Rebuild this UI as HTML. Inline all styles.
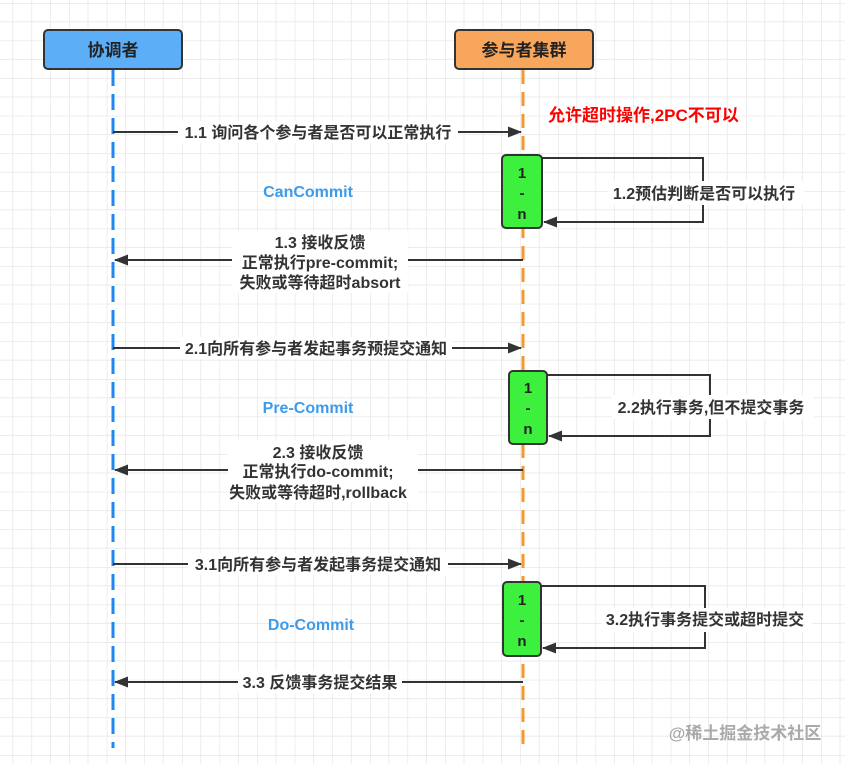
<!DOCTYPE html>
<html><head><meta charset="utf-8"><style>
html,body{margin:0;padding:0;background:#fff;}
svg{display:block;}
text{font-family:"Liberation Sans","Noto Sans CJK SC",sans-serif;font-weight:bold;}
</style></head><body>
<svg width="845" height="764" viewBox="0 0 845 764" xmlns="http://www.w3.org/2000/svg">
<defs>
<pattern id="g" width="37.6" height="37.6" patternUnits="userSpaceOnUse" x="-6" y="3">
<path d="M18.8 0V37.6M0 18.8H37.6" stroke="#ebebeb" stroke-width="1" fill="none"/>
<path d="M0 0V37.6M0 0H37.6" stroke="#dedede" stroke-width="1" fill="none"/>
</pattern>
<marker id="a" markerWidth="14" markerHeight="11" refX="13" refY="5.5" orient="auto" markerUnits="userSpaceOnUse">
<path d="M0 0L14 5.5L0 11Z" fill="#333"/></marker>
</defs>
<rect width="845" height="764" fill="url(#g)"/>
<line x1="113" y1="70" x2="113" y2="748" stroke="#1e88f0" stroke-width="3" stroke-dasharray="16,8"/>
<line x1="523" y1="70" x2="523" y2="748" stroke="#f39a2e" stroke-width="3" stroke-dasharray="14,8"/>
<rect x="44" y="30" width="138" height="39" rx="4" fill="#5caef7" stroke="#333" stroke-width="2"/>
<text x="113" y="56" text-anchor="middle" font-size="17" fill="#222">协调者</text>
<rect x="455" y="30" width="138" height="39" rx="4" fill="#f8a65c" stroke="#333" stroke-width="2"/>
<text x="524" y="56" text-anchor="middle" font-size="17" fill="#222">参与者集群</text>
<text x="548" y="121" font-size="17" fill="#f00">允许超时操作,2PC不可以</text>
<g stroke="#333" stroke-width="2" fill="none">
<line x1="113" y1="132" x2="521" y2="132" marker-end="url(#a)"/>
<line x1="523" y1="260" x2="115" y2="260" marker-end="url(#a)"/>
<line x1="113" y1="348" x2="521" y2="348" marker-end="url(#a)"/>
<line x1="523" y1="470" x2="115" y2="470" marker-end="url(#a)"/>
<line x1="113" y1="564" x2="521" y2="564" marker-end="url(#a)"/>
<line x1="523" y1="682" x2="115" y2="682" marker-end="url(#a)"/>
<polyline points="542,158 703,158 703,222 544,222" marker-end="url(#a)"/>
<polyline points="547,375 710,375 710,436 549,436" marker-end="url(#a)"/>
<polyline points="541,586 705,586 705,648 543,648" marker-end="url(#a)"/>
</g>
<rect x="502" y="155" width="40" height="73" rx="4" fill="#3ef03e" stroke="#333" stroke-width="2"/>
<rect x="509" y="371" width="38" height="73" rx="4" fill="#3ef03e" stroke="#333" stroke-width="2"/>
<rect x="503" y="582" width="38" height="74" rx="4" fill="#3ef03e" stroke="#333" stroke-width="2"/>
<g font-size="15" fill="#222" text-anchor="middle">
<text x="522" y="178">1</text><text x="522" y="198">-</text><text x="522" y="219">n</text>
<text x="528" y="393">1</text><text x="528" y="413">-</text><text x="528" y="434">n</text>
<text x="522" y="605" font-weight="normal">1</text><text x="522" y="625" font-weight="normal">-</text><text x="522" y="646" font-weight="normal">n</text>
</g>
<g fill="#fff">
<rect x="178" y="121" width="280" height="22"/>
<rect x="608" y="181" width="196" height="24"/>
<rect x="232" y="231" width="176" height="62"/>
<rect x="180" y="337" width="272" height="22"/>
<rect x="612" y="395" width="202" height="24"/>
<rect x="228" y="440" width="190" height="62"/>
<rect x="188" y="553" width="260" height="22"/>
<rect x="602" y="608" width="210" height="24"/>
<rect x="238" y="671" width="164" height="22"/>
</g>
<g font-size="16" fill="#333" text-anchor="middle">
<text x="318" y="138">1.1 询问各个参与者是否可以正常执行</text>
<text x="704" y="199">1.2预估判断是否可以执行</text>
<text x="320" y="248">1.3 接收反馈</text>
<text x="320" y="268">正常执行pre-commit;</text>
<text x="320" y="288">失败或等待超时absort</text>
<text x="316" y="354">2.1向所有参与者发起事务预提交通知</text>
<text x="711" y="413">2.2执行事务,但不提交事务</text>
<text x="318" y="458">2.3 接收反馈</text>
<text x="318" y="477">正常执行do-commit;</text>
<text x="318" y="498">失败或等待超时,rollback</text>
<text x="318" y="570">3.1向所有参与者发起事务提交通知</text>
<text x="705" y="625">3.2执行事务提交或超时提交</text>
<text x="320" y="688">3.3 反馈事务提交结果</text>
</g>
<g font-size="16" fill="#3d9be9" text-anchor="middle">
<text x="308" y="197">CanCommit</text>
<text x="308" y="413">Pre-Commit</text>
<text x="311" y="630">Do-Commit</text>
</g>
<text x="745" y="739" text-anchor="middle" font-size="17" font-weight="normal" fill="#aaa">@稀土掘金技术社区</text>
</svg>
</body></html>
